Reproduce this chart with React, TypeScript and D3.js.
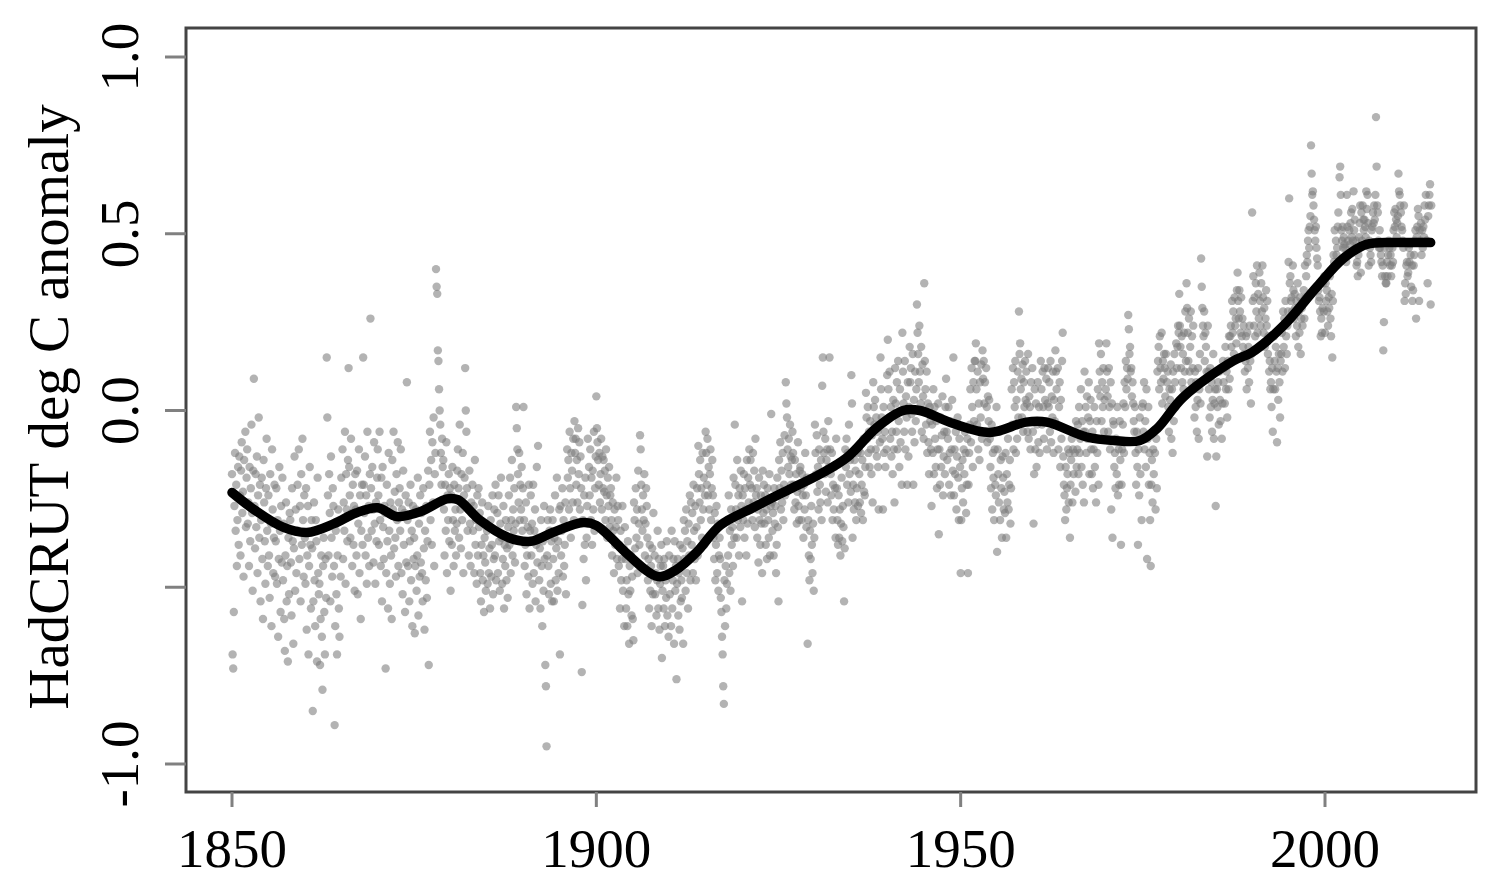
import React from "react";
import * as d3 from "d3";

// Monthly HadCRUT anomalies, hundredths of a degree (12 per year).
const m1850s = [
  -18,-69,-73,-57,-27,-12,-34,-21,-44,-31,-16,-38,
  -13,-24,-41,-17,-9,-29,-23,-47,-14,-26,-6,-33,
  -19,-11,-32,-26,-44,-16,-37,-22,-4,-29,-51,-17,
  9,-27,-39,-18,-33,-13,-46,-24,-2,-36,-21,-54,
  -31,-19,-42,-59,-14,-26,-37,-49,-22,-8,-34,-44,
  -24,-41,-53,-18,-32,-61,-11,-28,-46,-36,-21,-47,
  -37,-22,-49,-31,-64,-42,-16,-34,-57,-27,-43,-19,
  -48,-32,-59,-68,-41,-26,-54,-44,-71,-36,-52,-29,
  -31,-43,-58,-22,-37,-66,-39,-13,-51,-28,-46,-34,
  -21,-34,-11,-42,-27,-54,-18,-38,-8,-31,-47,-24,
];
const m1860s = [
  -36,-49,-22,-62,-41,-27,-69,-44,-16,-38,-56,-31,
  -39,-85,-54,-26,-48,-61,-31,-37,-71,-19,-46,-52,
  -49,-72,-59,-41,-64,-79,-44,-36,-57,-69,-42,-53,
  15,-2,-24,-41,-18,-29,-54,-13,-36,-47,-22,-27,
  -44,-89,-61,-34,-52,-69,-41,-28,-56,-64,-31,-47,
  -19,-31,-11,-42,-26,-34,-6,-49,-18,-28,-37,-14,
  12,-16,-24,-36,-8,-29,-44,-21,-38,-27,-51,-18,
  -28,-41,-17,-52,-32,-11,-46,-24,-59,-34,-21,-38,
  15,-21,-29,-13,-41,-24,-49,-6,-36,-27,-44,-18,
  26,-22,-34,-16,-28,-43,-9,-32,-49,-26,-37,-19,
];
const m1870s = [
  -11,-24,-38,-6,-31,-44,-19,-54,-16,-33,-42,-27,
  -29,-73,-46,-21,-37,-56,-12,-34,-49,-26,-41,-59,
  -14,-28,-6,-39,-23,-36,-47,-18,-31,-9,-44,-26,
  -22,-34,-11,-46,-28,-52,-17,-38,-29,-57,-24,-43,
  8,-31,-44,-26,-54,-37,-21,-48,-34,-61,-27,-42,
  -36,-63,-44,-28,-51,-41,-19,-58,-32,-47,-24,-43,
  -29,-46,-54,-22,-39,-62,-34,-48,-27,-53,-37,-17,
  -72,-21,-6,-31,-14,-38,-9,-26,-2,-44,-18,-12,
  40,35,33,17,14,6,0,-4,-12,-21,-8,-16,
  -14,-28,-41,-21,-34,-9,-46,-24,-31,-18,-37,-22,
];
const m1880s = [
  -51,-24,-38,-16,-31,-44,-21,-34,-28,-41,-32,-17,
  -11,-22,-36,-4,-28,-39,-18,-31,-12,-46,-24,-19,
  12,0,-6,-22,-34,-28,-41,-17,-32,-44,-26,-29,
  -21,-34,-27,-46,-14,-38,-31,-49,-24,-41,-22,-33,
  -29,-46,-54,-38,-26,-48,-41,-57,-36,-43,-51,-32,
  -34,-49,-27,-46,-39,-56,-31,-47,-38,-24,-52,-42,
  -28,-41,-21,-48,-34,-29,-46,-24,-37,-51,-32,-19,
  -36,-49,-42,-27,-56,-38,-44,-31,-48,-39,-53,-33,
  -24,-38,-19,-46,-31,-14,-41,-28,-34,-22,-43,-32,
  1,-5,-11,-18,-26,-12,-31,-21,-28,-16,-34,-22,
];
const m1890s = [
  1,-31,-44,-38,-26,-52,-41,-33,-47,-21,-56,-34,
  -24,-41,-32,-49,-21,-46,-34,-28,-54,-38,-16,-43,
  -10,-36,-48,-39,-56,-31,-44,-61,-37,-51,-27,-42,
  -72,-78,-95,-41,-31,-44,-52,-34,-28,-49,-37,-54,
  -31,-42,-54,-36,-24,-48,-39,-19,-51,-37,-46,-28,
  -69,-27,-41,-34,-22,-47,-31,-44,-38,-26,-52,-33,
  -11,-19,-14,-28,-6,-22,-36,-12,-17,-26,-8,-31,
  -3,-12,-8,-21,-14,-26,-5,-18,-9,-28,-13,-22,
  -74,-55,-31,-42,-24,-38,-19,-48,-36,-27,-8,-32,
  -16,-24,-11,-31,-19,-38,-17,-28,-6,-34,-22,-13,
];
const m1900s = [
  4,-5,-9,-14,-21,-12,-26,-18,-8,-28,-13,-22,
  -14,-23,-17,-31,-11,-24,-36,-19,-27,-16,-33,-24,
  -22,-31,-41,-26,-34,-46,-28,-38,-33,-19,-42,-27,
  -31,-44,-38,-56,-34,-48,-42,-27,-51,-39,-61,-33,
  -42,-56,-48,-61,-37,-52,-66,-44,-51,-41,-58,-47,
  -59,-65,-26,-31,-39,-22,-36,-28,-46,-17,-32,-38,
  -7,-11,-21,-28,-34,-24,-31,-18,-41,-32,-22,-27,
  -36,-48,-42,-56,-38,-51,-44,-61,-39,-52,-29,-47,
  -41,-52,-46,-58,-48,-34,-56,-42,-62,-49,-44,-38,
  -70,-51,-44,-56,-42,-61,-48,-53,-37,-58,-46,-64,
];
const m1910s = [
  -41,-52,-46,-61,-34,-56,-48,-42,-66,-37,-51,-44,
  -76,-49,-42,-58,-46,-62,-38,-54,-48,-53,-39,-66,
  -31,-42,-34,-51,-28,-46,-37,-56,-32,-41,-24,-48,
  -26,-38,-29,-46,-21,-34,-42,-27,-48,-33,-22,-41,
  -10,-18,-26,-14,-31,-22,-36,-12,-28,-19,-38,-24,
  -6,-12,-21,-8,-24,-16,-28,-18,-11,-31,-22,-14,
  -24,-36,-42,-29,-48,-38,-27,-46,-32,-51,-41,-36,
  -42,-53,-57,-64,-69,-78,-83,-48,-61,-44,-56,-49,
  -31,-41,-24,-46,-34,-51,-28,-38,-33,-44,-19,-36,
  -4,-21,-28,-36,-14,-31,-24,-41,-22,-33,-17,-27,
];
const m1920s = [
  -54,-24,-31,-18,-36,-22,-28,-41,-14,-32,-19,-26,
  -11,-21,-14,-28,-22,-31,-12,-26,-17,-33,-8,-24,
  -22,-36,-28,-43,-19,-31,-38,-24,-32,-46,-17,-29,
  -21,-32,-24,-38,-28,-42,-22,-31,-36,-18,-41,-27,
  -1,-26,-34,-29,-41,-22,-32,-27,-46,-38,-19,-33,
  -54,-14,-22,-9,-28,-17,-26,-12,-31,-21,-7,-24,
  8,2,-2,-11,-16,-8,-18,-4,-13,-21,-14,-6,
  -12,-21,-28,-14,-26,-18,-32,-23,-9,-27,-31,-17,
  -16,-22,-31,-18,-24,-36,-21,-28,-12,-24,-33,-19,
  -66,-31,-41,-48,-34,-42,-27,-38,-46,-32,-51,-36,
];
const m1930s = [
  -4,-12,-18,-7,-23,-16,-28,-11,-21,-26,-14,-31,
  7,15,-6,-12,-18,-8,-23,-14,-11,-26,-3,-16,
  15,-11,-18,-24,-12,-31,-21,-28,-16,-22,-36,-8,
  -22,-31,-38,-24,-36,-28,-41,-32,-19,-37,-27,-33,
  -54,-39,-11,-16,-8,-21,-12,-26,-4,-18,-14,-23,
  10,2,-36,-21,-28,-14,-26,-17,-31,-22,-12,-27,
  -11,-18,-26,-12,-29,-21,-14,-31,-8,-23,-24,-16,
  5,-2,-8,1,-12,-6,-16,-3,-11,-18,-7,-26,
  8,1,-4,3,-11,-2,-13,-6,-16,-28,-4,-9,
  15,6,-2,-8,-28,1,-12,-6,-16,-3,-11,10,
];
const m1940s = [
  20,6,-2,11,-8,1,-13,-6,-18,3,-11,-26,
  12,2,-6,8,-11,14,-3,-16,6,-9,0,-21,
  22,11,2,-6,14,-11,4,-2,-21,8,-13,1,
  18,8,12,-1,-6,16,-21,3,-9,11,-3,6,
  30,22,16,8,24,11,2,18,-6,13,4,-8,
  36,14,6,-4,11,-12,2,-9,-18,1,-3,-11,
  -27,-4,-12,6,-18,1,-8,-16,-3,-22,-11,2,
  -35,-11,-21,-2,-16,-7,4,-24,-13,-6,-18,1,
  9,-6,-14,-8,1,-21,-12,-3,-24,-11,3,-17,
  15,-24,-11,-18,-6,-28,-13,-2,-19,-31,-8,-16,
];
const m1950s = [
  -46,-31,-22,-14,-26,-11,-18,-6,-12,-29,-21,-8,
  -46,-21,-12,-4,6,-9,12,1,-16,8,-3,14,
  14,19,6,-4,11,-11,2,-14,8,-2,13,-8,
  17,9,14,2,8,-6,12,1,-9,4,-3,3,
  -8,-16,-22,-4,-28,-12,-19,-31,-11,-21,-24,1,
  -40,-11,-18,-26,-6,-31,-14,-22,-36,-13,-19,-28,
  -23,-29,-12,-36,-18,-26,-8,-28,-21,-14,-32,-22,
  6,-4,12,-11,8,1,14,-12,3,-8,11,-2,
  28,16,19,6,9,-2,13,-6,8,1,14,3,
  11,2,-6,16,-8,4,1,-11,8,-3,12,-6,
];
const m1960s = [
  -32,-18,6,-11,2,-16,-4,8,-9,1,-12,-3,
  14,6,-4,11,1,-8,12,3,-3,9,-11,2,
  12,1,8,-6,14,-9,4,-2,11,-12,3,-3,
  17,11,6,-4,12,-11,1,8,-16,3,-8,14,
  22,-13,-21,-24,-31,-16,-28,-22,-18,-11,-26,-12,
  -36,-21,-14,-8,-26,-11,-18,-6,-12,-23,-3,-16,
  -11,-4,-18,1,-12,-8,6,-16,-3,-21,-6,-26,
  11,-6,1,-12,4,-8,-2,8,-18,-3,3,-11,
  -18,-6,-22,-11,1,-16,-8,-26,-3,-12,6,-21,
  19,11,4,16,-3,8,1,12,-6,3,-8,6,
];
const m1970s = [
  19,11,4,-6,12,1,-11,8,-28,2,-36,-3,
  -4,-16,-12,-22,-8,-18,1,-24,-11,-21,-3,-14,
  -38,-21,-11,-4,2,-12,8,1,14,6,12,9,
  27,23,16,18,11,12,4,8,2,-3,-6,1,
  -12,-21,-6,-16,-38,-11,-24,-2,-18,-8,-31,1,
  2,-6,8,-11,-3,-16,6,-42,-8,1,-21,-12,
  -31,-44,-21,-14,-26,-11,-18,-6,-12,-28,-8,-22,
  11,14,18,6,21,12,8,22,2,14,9,16,
  12,4,16,-2,8,11,1,-6,6,3,13,-8,
  6,-12,11,-3,16,8,1,19,12,18,24,22,
];
const m1980s = [
  33,24,18,12,21,8,16,6,22,11,28,14,
  36,29,22,14,26,11,18,28,8,21,12,24,
  6,-2,11,1,8,-6,3,12,-8,6,16,2,
  43,35,29,24,21,28,14,22,18,11,-13,24,
  11,6,-2,12,1,8,-6,3,16,-8,2,6,
  -27,-13,6,1,8,-4,11,3,-3,12,-8,2,
  14,8,12,2,18,6,11,-2,14,6,21,9,
  21,24,18,31,22,28,16,32,24,26,19,34,
  39,31,26,34,28,22,32,21,26,18,24,16,
  11,14,21,6,22,12,18,8,24,14,2,16,
];
const m1990s = [
  56,31,38,24,32,21,36,28,41,22,33,26,
  39,31,24,36,28,41,32,22,29,18,26,34,
  24,31,16,21,11,14,6,8,1,12,-6,6,
  21,14,6,18,11,-9,12,3,16,8,-2,14,
  16,22,11,28,18,26,12,31,21,16,24,28,
  42,60,36,38,31,32,28,41,34,26,33,29,
  21,31,24,36,18,28,22,32,16,26,29,24,
  31,34,26,41,32,38,44,42,48,51,46,52,
  55,75,67,61,62,58,54,51,48,52,46,43,
  41,34,31,32,28,21,26,22,29,36,28,38,
];
const m2000s = [
  22,36,31,34,28,24,32,29,38,26,21,33,
  15,31,44,42,51,41,48,44,46,52,56,42,
  66,69,61,51,48,52,46,49,47,46,44,42,
  61,52,48,44,51,47,53,56,49,57,48,62,
  51,54,46,48,41,42,38,44,49,53,58,39,
  56,48,58,54,51,54,52,49,62,57,61,53,
  41,48,46,44,42,51,52,56,53,58,54,61,
  83,69,58,56,48,46,51,46,44,42,38,41,
  17,25,46,38,36,36,42,38,44,48,46,41,
  44,38,41,46,42,51,56,52,57,54,49,53,
];
const m2010s = [
  55,67,62,61,58,56,52,51,48,46,58,31,
  36,33,41,42,38,39,46,42,47,44,35,41,
  31,34,41,44,48,51,26,49,52,57,55,31,
  51,48,53,44,51,46,52,49,58,54,61,48,
  48,36,55,58,61,64,30,58,
];

const decadeStarts = [1850, 1860, 1870, 1880, 1890, 1900, 1910, 1920, 1930, 1940, 1950, 1960, 1970, 1980, 1990, 2000, 2010];
const decades = [m1850s, m1860s, m1870s, m1880s, m1890s, m1900s, m1910s, m1920s, m1930s, m1940s, m1950s, m1960s, m1970s, m1980s, m1990s, m2000s, m2010s];

// Smoothed curve
const smoothYears = [1850, 1853, 1857, 1860.3, 1864, 1867, 1870, 1872.6, 1876, 1879.5, 1881, 1884, 1888, 1891, 1894, 1898.2, 1900, 1902, 1904.2, 1908.5, 1911, 1913.8, 1917, 1921.5, 1926.2, 1930.7, 1934.4, 1938.5, 1942.1, 1944.4, 1949, 1954, 1959, 1961.8, 1967.3, 1971, 1974.6, 1977, 1980.5, 1987.4, 1990, 1994.3, 1998.9, 2002.5, 2005.7, 2010, 2014.5];
const smoothValues = [-0.232, -0.28, -0.33, -0.345, -0.32, -0.29, -0.275, -0.30, -0.285, -0.25, -0.252, -0.31, -0.36, -0.37, -0.345, -0.317, -0.325, -0.36, -0.405, -0.47, -0.45, -0.40, -0.325, -0.275, -0.226, -0.18, -0.133, -0.048, 0.0, 0.0, -0.037, -0.062, -0.033, -0.033, -0.075, -0.085, -0.085, -0.05, 0.037, 0.14, 0.165, 0.24, 0.35, 0.43, 0.47, 0.475, 0.475];

const yTicks = [1.0, 0.5, 0.0, -0.5, -1.0];
const yTickLabels = ["1.0", "0.5", "0.0", "", "-1.0"];
const xTicks = [1850, 1900, 1950, 2000];

const W = 1511;
const H = 881;
const box = { left: 186, right: 1476, top: 28, bottom: 792 };

export default function App() {
  const x = d3.scaleLinear().domain([1850, 2000]).range([232, 1325]);
  const y = d3.scaleLinear().domain([-1, 1]).range([764, 57]);

  const points: { t: number; v: number }[] = [];
  decades.forEach((arr, di) => {
    arr.forEach((hv, i) => {
      const t = decadeStarts[di] + Math.floor(i / 12) + (i % 12) / 12;
      points.push({ t, v: hv / 100 });
    });
  });

  const smooth = smoothYears.map((yr, i) => [yr, smoothValues[i]] as [number, number]);
  const line = d3
    .line<[number, number]>()
    .x((d) => x(d[0]))
    .y((d) => y(d[1]))
    .curve(d3.curveCatmullRom.alpha(0.5));

  const font = "'Liberation Serif', 'Times New Roman', serif";

  return (
    <svg width={W} height={H} style={{ position: "absolute", left: 0, top: 0, background: "#fff" }}>
      <defs>
        <filter id="soft" x="-50%" y="-50%" width="200%" height="200%">
          <feGaussianBlur stdDeviation="0.6" />
        </filter>
      </defs>
      <rect x={0} y={0} width={W} height={H} fill="#fff" />
      <g filter="url(#soft)">
        {points.map((p, i) => (
          <circle key={i} cx={x(p.t)} cy={y(p.v)} r={4.2} fill="#7c7c7c" fillOpacity={0.58} />
        ))}
      </g>
      <path d={line(smooth) || ""} fill="none" stroke="#000" strokeWidth={9.5} strokeLinejoin="round" strokeLinecap="round" />
      <rect
        x={box.left}
        y={box.top}
        width={box.right - box.left}
        height={box.bottom - box.top}
        fill="none"
        stroke="#444"
        strokeWidth={3}
      />
      {yTicks.map((v, i) => (
        <g key={"y" + i}>
          <line x1={box.left - 21} x2={box.left} y1={y(v)} y2={y(v)} stroke="#808080" strokeWidth={3} />
          {yTickLabels[i] && (
            <text
              transform={`translate(138,${y(v)}) rotate(-90)`}
              textAnchor="middle"
              fontFamily={font}
              fontSize={55}
              fill="#000"
            >
              {yTickLabels[i]}
            </text>
          )}
        </g>
      ))}
      {xTicks.map((v, i) => (
        <g key={"x" + i}>
          <line x1={x(v)} x2={x(v)} y1={box.bottom} y2={box.bottom + 15} stroke="#808080" strokeWidth={3} />
          <text x={x(v)} y={867} textAnchor="middle" fontFamily={font} fontSize={55} fill="#000">
            {v}
          </text>
        </g>
      ))}
      <text
        transform={`translate(68,${(box.top + box.bottom) / 2 - 3}) rotate(-90)`}
        textAnchor="middle"
        fontFamily={font}
        fontSize={57}
        fill="#000"
      >
        HadCRUT deg C anomaly
      </text>
    </svg>
  );
}
